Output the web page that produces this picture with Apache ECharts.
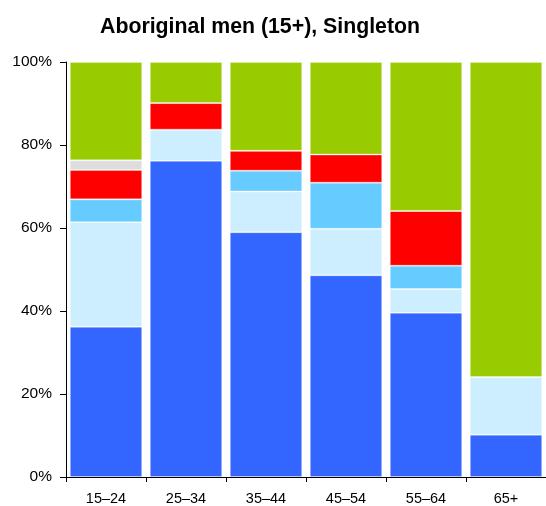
<!DOCTYPE html>
<html>
<head>
<meta charset="utf-8">
<script src="https://cdn.jsdelivr.net/npm/echarts@6/dist/echarts.min.js"></script>
<style>
  html, body { margin: 0; padding: 0; background: #fff; }
  #chart { width: 546px; height: 506px; }
</style>
</head>
<body>
<div id="chart"></div>
<script>
"use strict";

// age groups along the x axis
const ageGroups = ["15–24", "25–34", "35–44", "45–54", "55–64", "65+"];

// shares (%) per age group, bottom to top of each stack
const fullTime = [36.2, 76.2, 59.0, 48.6, 39.6, 10.2];
const partTime = [25.2, 7.5, 9.8, 11.2, 5.7, 13.9];
const awayFromWork = [5.5, 0, 5.0, 11.1, 5.6, 0];
const unemployed = [7.1, 6.4, 4.8, 6.8, 13.2, 0];
const notStated = [2.3, 0, 0, 0, 0, 0];
const notInLabourForce = [23.7, 9.9, 21.4, 22.3, 35.9, 75.9];

const yTicks = [0, 20, 40, 60, 80, 100];

const chart = echarts.init(document.getElementById("chart"));

const stack = (name, data, color) => ({
  name,
  type: "bar",
  stack: "all",
  data,
  barCategoryGap: "9.5%",
  itemStyle: {
    color,
    borderColor: "rgba(255,255,255,0.3)",
    borderWidth: 1,
  },
});

/** @type {echarts.EChartsOption} */
const options = {
  backgroundColor: "#fff",
  animation: false,
  textStyle: { fontFamily: "Liberation Sans, Arial, sans-serif" },
  title: {
    text: "Aboriginal men (15+), Singleton",
    left: 95,
    top: 12,
    textStyle: {
      fontSize: 21.3,
      fontWeight: "bold",
      color: "#000",
      fontFamily: "Liberation Sans, Arial, sans-serif",
    },
  },
  grid: { left: 66, right: 0, top: 62, bottom: 29, containLabel: false },
  xAxis: {
    type: "category",
    data: ageGroups,
    axisLine: { lineStyle: { color: "#000", width: 1 } },
    axisTick: { show: true, length: 5, lineStyle: { color: "#000" } },
    axisLabel: { color: "#000", fontSize: 14.5, margin: 14 },
  },
  yAxis: {
    type: "value",
    min: yTicks[0],
    max: yTicks[yTicks.length - 1],
    interval: 20,
    splitLine: { show: false },
    axisLine: { show: true, lineStyle: { color: "#000", width: 1 } },
    axisTick: { show: true, length: 6, lineStyle: { color: "#000" } },
    axisLabel: { color: "#000", fontSize: 15.5, margin: 14, formatter: "{value}%" },
  },
  series: [
    stack("Employed full-time", fullTime, "#3366ff"),
    stack("Employed part-time", partTime, "#cceeff"),
    stack("Employed, away from work", awayFromWork, "#66ccff"),
    stack("Unemployed", unemployed, "#ff0000"),
    stack("Not stated", notStated, "#dddddd"),
    stack("Not in the labour force", notInLabourForce, "#99cc00"),
  ],
};

chart.setOption(options);
</script>
</body>
</html>
